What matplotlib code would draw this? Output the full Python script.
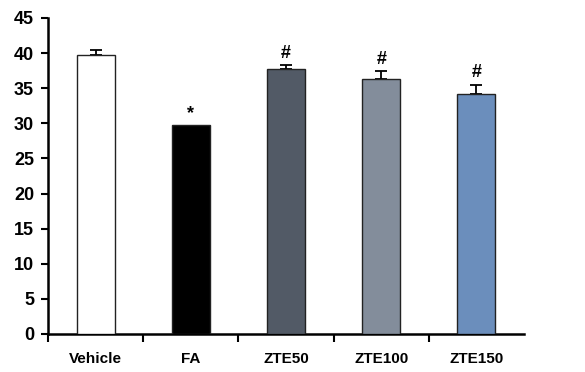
import numpy as np
import matplotlib.pyplot as plt

# %% data
groups = ['Vehicle', 'FA', 'ZTE50', 'ZTE100', 'ZTE150']
means = [39.8, 29.7, 37.8, 36.3, 34.2]
errs = [0.7, 0.0, 0.5, 1.1, 1.3]
marks = ['', '*', '#', '#', '#']
colors = ['#ffffff', '#000000', '#525a66', '#838d9b', '#6b8ebc']

# %% plot
plt.rcParams['font.family'] = ['Liberation Sans', 'DejaVu Sans']
fig = plt.figure(figsize=(5.85, 3.72), dpi=100)
ax = fig.add_axes([48 / 585, 38 / 372, (524 - 48) / 585, (334 - 18) / 372])

x = np.arange(len(groups))
ax.bar(x, means, width=0.4, color=colors, edgecolor='#222222', linewidth=1.0, zorder=3)
# upper half of error bars only, skip the ones with no error
for xi, m, e in zip(x, means, errs):
    if e > 0:
        ax.errorbar(xi, m, yerr=[[0], [e]], fmt='none', ecolor='black',
                    elinewidth=1.3, capsize=4, capthick=1.3, zorder=2)
for xi, m, e, s in zip(x, means, errs, marks):
    if s:
        ax.text(xi, m + e + 0.5, s, ha='center', va='bottom', fontsize=13, fontweight='bold')

ax.set_xlim(-0.5, len(groups) - 0.5)
ax.set_ylim(0, 45)
ax.set_yticks(np.arange(0, 46, 5))
ax.set_xticks(x)
ax.set_xticklabels(groups, fontsize=11, fontweight='bold')
ax.set_xticks(np.arange(-0.5, len(groups) - 0.5, 1), minor=True)
ax.tick_params(axis='x', which='major', length=0, pad=13)
ax.tick_params(axis='x', which='minor', length=6, width=1.5, direction='out')
ax.tick_params(axis='y', length=5, width=1.5, direction='out', labelsize=13, pad=5)
for lbl in ax.get_yticklabels():
    lbl.set_fontweight('bold')
for side in ['top', 'right']:
    ax.spines[side].set_visible(False)
for side in ['left', 'bottom']:
    ax.spines[side].set_linewidth(1.8)

fig.savefig('out.png', dpi=100)
